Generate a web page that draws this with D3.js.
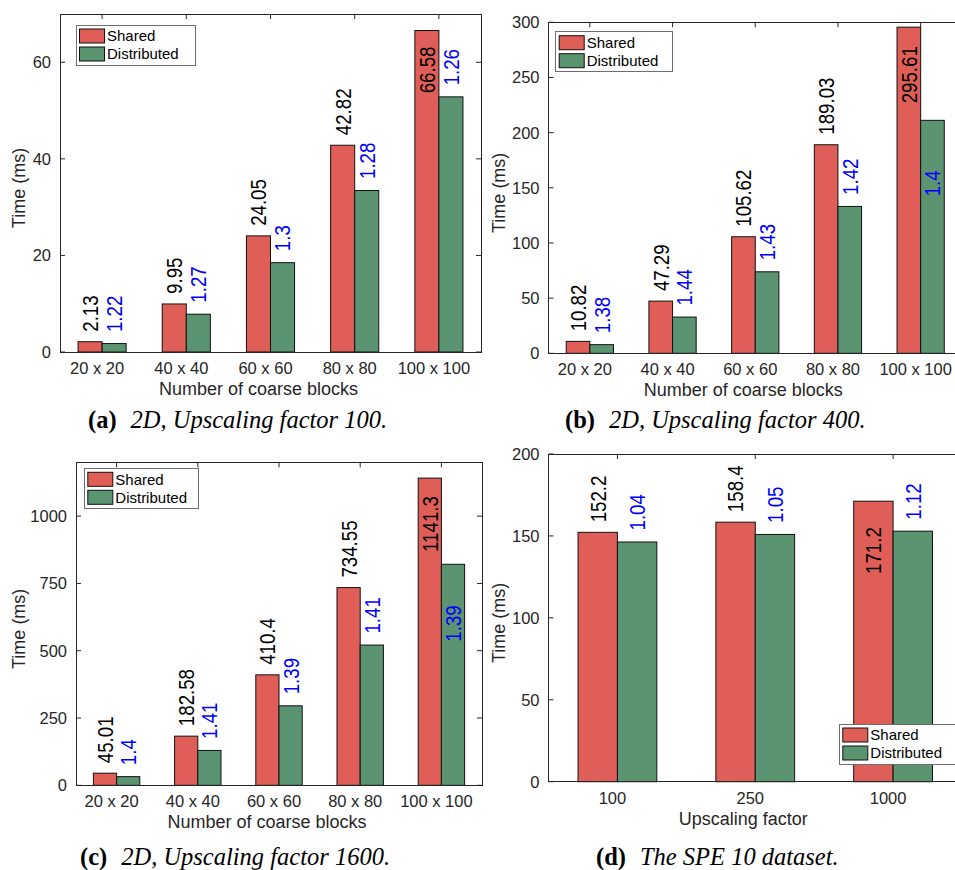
<!DOCTYPE html>
<html>
<head>
<meta charset="utf-8">
<script src="https://d3js.org/d3.v7.min.js"></script>
<style>
  body { margin: 0; background: #fff; }
  svg { display: block; }
  text { font-family: "Liberation Sans", Arial, Helvetica, sans-serif; }
</style>
</head>
<body>
<svg id="chart" width="955" height="870"></svg>
<script>
// ---- data ----
const coarseBlocks = ["20 x 20", "40 x 40", "60 x 60", "80 x 80", "100 x 100"];
const upscalingFactors = ["100", "250", "1000"];

// (a) 2D, upscaling factor 100
const sharedA = [2.13, 9.95, 24.05, 42.82, 66.58];
const distributedA = [1.75, 7.83, 18.5, 33.45, 52.84];
const ratioA = [1.22, 1.27, 1.3, 1.28, 1.26];

// (b) 2D, upscaling factor 400
const sharedB = [10.82, 47.29, 105.62, 189.03, 295.61];
const distributedB = [7.84, 32.84, 73.86, 133.1, 211.15];
const ratioB = [1.38, 1.44, 1.43, 1.42, 1.4];

// (c) 2D, upscaling factor 1600
const sharedC = [45.01, 182.58, 410.4, 734.55, 1141.3];
const distributedC = [32.15, 129.5, 295.3, 521.0, 821.1];
const ratioC = [1.4, 1.41, 1.39, 1.41, 1.39];

// (d) SPE 10
const sharedD = [152.2, 158.4, 171.2];
const distributedD = [146.3, 150.9, 152.9];
const ratioD = [1.04, 1.05, 1.12];

const yTicksA = [0, 20, 40, 60];
const yTicksB = [0, 50, 100, 150, 200, 250, 300];
const yTicksC = [0, 250, 500, 750, 1000];
const yTicksD = [0, 50, 100, 150, 200];

const seriesNames = ["Shared", "Distributed"];
const colors = ["#df5f58", "#5b9470"];

// ---- layout ----
const panels = [
  { cats: coarseBlocks, shared: sharedA, dist: distributedA, ratio: ratioA,
    ymax: 70, ticks: yTicksA, xlabel: "Number of coarse blocks",
    box: [60, 481, 14, 352], px: 0, legend: [76, 25, 119],
    capX: 88, capY: 428, capTag: "(a)", capText: "2D, Upscaling factor 100.",
    inside: { s: { 4: 16 }, r: {} } },
  { cats: coarseBlocks, shared: sharedB, dist: distributedB, ratio: ratioB,
    ymax: 300, ticks: yTicksB, xlabel: "Number of coarse blocks",
    box: [548.5, 962, 22.3, 353.3], px: 480, legend: [555.7, 31.7, 117],
    capX: 565, capY: 428, capTag: "(b)", capText: "2D, Upscaling factor 400.",
    inside: { s: { 4: 19 }, r: { 4: 50 } } },
  { cats: coarseBlocks, shared: sharedC, dist: distributedC, ratio: ratioC,
    ymax: 1200, ticks: yTicksC, xlabel: "Number of coarse blocks",
    box: [76, 482, 462.3, 785.3], px: 0, legend: [84.3, 468.3, 114],
    capX: 80, capY: 865, capTag: "(c)", capText: "2D, Upscaling factor 1600.",
    inside: { s: { 4: 18 }, r: { 4: 41 } } },
  { cats: upscalingFactors, shared: sharedD, dist: distributedD, ratio: ratioD,
    ymax: 200, ticks: yTicksD, xlabel: "Upscaling factor",
    box: [548.5, 962, 454, 781.7], px: 480, legend: [839.3, 724, 116],
    capX: 596, capY: 865, capTag: "(d)", capText: "The SPE 10 dataset.",
    inside: { s: { 2: 26 }, r: {} } }
];

const svg = d3.select("#chart");
const axisColor = "#262626";
const tickFont = 16.5, labelFont = 18, legendFont = 15, valueFont = 22;

panels.forEach(p => {
  const [l, r, t, b] = p.box;
  const g = svg.append("g");

  const x = d3.scaleBand().domain(p.cats).range([l, r])
    .paddingInner(0.4286).paddingOuter(0.2143);
  const xs = d3.scaleBand().domain(seriesNames).range([0, x.bandwidth()]);
  const y = d3.scaleLinear().domain([0, p.ymax]).range([b, t]);
  const center = c => x(c) + x.bandwidth() / 2;

  // inward ticks
  const tl = 5;
  p.ticks.forEach(v => {
    g.append("line").attr("x1", l).attr("x2", l + tl).attr("y1", y(v)).attr("y2", y(v))
      .attr("stroke", axisColor);
    g.append("line").attr("x1", r).attr("x2", r - tl).attr("y1", y(v)).attr("y2", y(v))
      .attr("stroke", axisColor);
  });
  p.cats.forEach(c => {
    g.append("line").attr("x1", center(c)).attr("x2", center(c)).attr("y1", t).attr("y2", t + tl)
      .attr("stroke", axisColor);
    g.append("line").attr("x1", center(c)).attr("x2", center(c)).attr("y1", b).attr("y2", b - tl)
      .attr("stroke", axisColor);
  });

  // bars
  const rows = p.cats.map((c, i) => ({ c, i, vals: [p.shared[i], p.dist[i]] }));
  rows.forEach(d => {
    d.vals.forEach((v, k) => {
      g.append("rect")
        .attr("x", x(d.c) + xs(seriesNames[k]))
        .attr("y", y(v))
        .attr("width", xs.bandwidth())
        .attr("height", b - y(v))
        .attr("fill", colors[k])
        .attr("stroke", "#111")
        .attr("stroke-width", 1);
    });
  });

  // box
  g.append("rect").attr("x", l).attr("y", t).attr("width", r - l).attr("height", b - t)
    .attr("fill", "none").attr("stroke", axisColor).attr("stroke-width", 1)
    .attr("shape-rendering", "crispEdges");

  // tick labels
  p.ticks.forEach(v => {
    g.append("text").attr("x", l - 9).attr("y", y(v)).attr("dy", "0.36em")
      .attr("text-anchor", "end").attr("font-size", tickFont).attr("fill", axisColor)
      .text(v);
  });
  p.cats.forEach(c => {
    g.append("text").attr("x", center(c) - 5).attr("y", b + 22)
      .attr("text-anchor", "middle").attr("font-size", tickFont).attr("fill", axisColor)
      .text(c);
  });

  // axis labels
  g.append("text").attr("x", (l + r) / 2 - 12).attr("y", b + 43)
    .attr("text-anchor", "middle").attr("font-size", labelFont).attr("fill", axisColor)
    .text(p.xlabel);
  g.append("text")
    .attr("transform", `translate(${p.px + 25},${(t + b) / 2 + 5}) rotate(-90)`)
    .attr("text-anchor", "middle").attr("font-size", labelFont).attr("fill", axisColor)
    .text("Time (ms)");

  // value labels (shared time in black, speed-up ratio in blue)
  const valueLabel = (cx, top, txt, color, gap, insideOff) => {
    const inside = insideOff !== undefined;
    const yy = inside ? top + insideOff : top - gap;
    g.append("text")
      .attr("transform", `translate(${cx},${yy}) rotate(-90) scale(0.85,1)`)
      .attr("dy", "0.36em")
      .attr("text-anchor", inside ? "end" : "start")
      .attr("font-size", valueFont).attr("fill", color)
      .text(txt);
  };
  rows.forEach(d => {
    const cs = x(d.c) + xs(seriesNames[0]) + xs.bandwidth() / 2;
    const cd = x(d.c) + xs(seriesNames[1]) + xs.bandwidth() / 2;
    valueLabel(cs, y(p.shared[d.i]), String(p.shared[d.i]), "#000", 10, p.inside.s[d.i]);
    valueLabel(cd, y(p.dist[d.i]), String(p.ratio[d.i]), "#0000ff", 11.5, p.inside.r[d.i]);
  });

  // legend
  const [lx, ly, lw] = p.legend;
  const lg = g.append("g");
  lg.append("rect").attr("x", lx).attr("y", ly).attr("width", lw).attr("height", 40)
    .attr("fill", "#fff").attr("stroke", "#6e6e6e").attr("stroke-width", 1)
    .attr("shape-rendering", "crispEdges");
  seriesNames.forEach((s, k) => {
    const ry = ly + 4 + k * 18;
    lg.append("rect").attr("x", lx + 3.5).attr("y", ry).attr("width", 25).attr("height", 14)
      .attr("fill", colors[k]).attr("stroke", "#111");
    lg.append("text").attr("x", lx + 31).attr("y", ry + 7).attr("dy", "0.36em")
      .attr("font-size", legendFont).attr("fill", "#000").text(s);
  });

  // caption
  const cap = svg.append("text").attr("x", p.capX).attr("y", p.capY)
    .attr("font-size", 24.5).attr("fill", "#000")
    .style("font-family", "'Liberation Serif', 'Times New Roman', serif");
  cap.append("tspan").attr("font-weight", "bold").text(p.capTag);
  cap.append("tspan").attr("dx", 14).attr("font-style", "italic").text(p.capText);
});
</script>
</body>
</html>
